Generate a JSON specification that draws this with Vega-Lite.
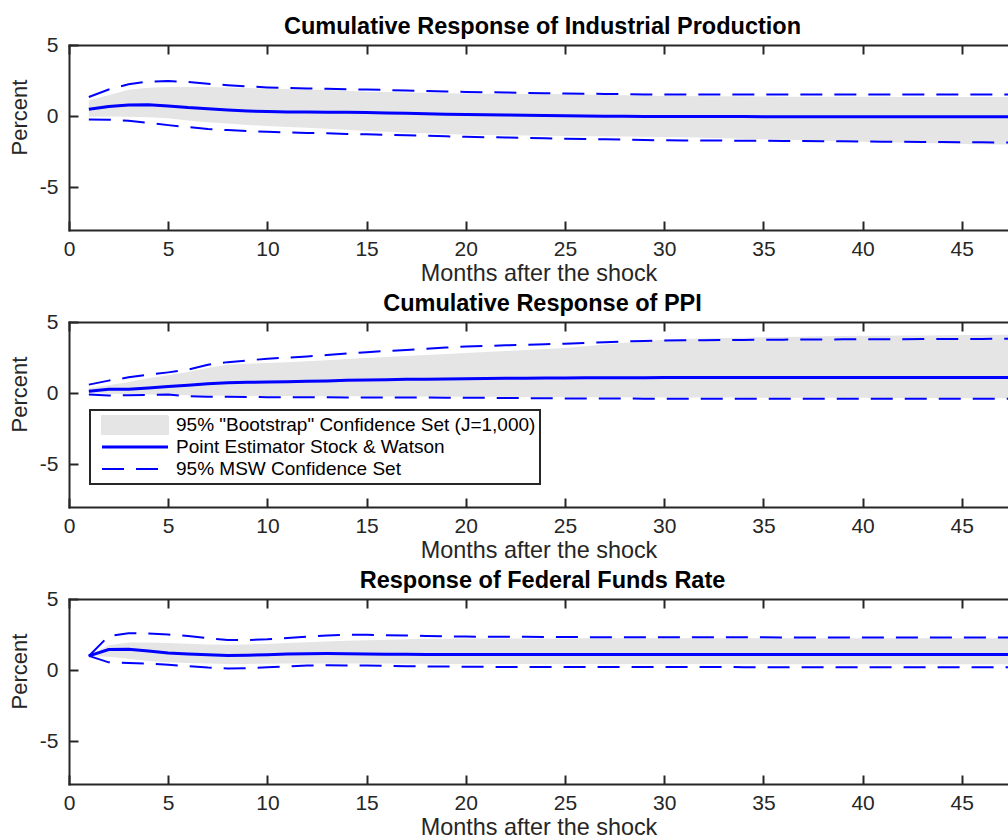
{
  "$schema": "https://vega.github.io/schema/vega-lite/v6.json",
  "background": "white",
  "padding": {"left": 7, "top": 14, "right": 0, "bottom": 0},
  "bounds": "flush",
  "spacing": 92,
  "resolve": {"scale": {"color": "independent"}},
  "config": {
    "font": "Liberation Sans",
    "view": {"stroke": null},
    "axis": {
      "domainColor": "#262626", "domainWidth": 2, "domainCap": "square",
      "tickColor": "#262626", "tickWidth": 2, "tickSize": -9,
      "labelFont": "Liberation Sans", "labelFontSize": 21, "labelColor": "#262626",
      "titleFont": "Liberation Sans", "titleFontSize": 22, "titleColor": "#262626", "titleFontWeight": "normal",
      "grid": false, "labelFlush": false, "labelOverlap": false,
      "labelExpr": "'' + datum.value"
    },
    "axisX": {"labelPadding": 17, "titleY": 50, "titleBaseline": "alphabetic", "labelBaseline": "top", "titleFontSize": 23.4},
    "axisY": {"labelPadding": 20, "titleX": -43, "titleY": 72, "titleBaseline": "alphabetic", "titleAngle": -90, "titleAlign": "center"},
    "title": {"font": "Liberation Sans", "fontSize": 23.5, "fontWeight": "bold", "color": "black", "anchor": "middle", "frame": "group", "baseline": "alphabetic", "offset": -4, "dx": 4}
  },
  "datasets": {
    "ip": [
      {"m":1,"pe":0.49,"bl":-0.05,"bu":1.12,"ml":-0.23,"mu":1.35},
      {"m":2,"pe":0.68,"bl":-0.03,"bu":1.47,"ml":-0.25,"mu":1.87},
      {"m":3,"pe":0.78,"bl":-0.05,"bu":1.85,"ml":-0.33,"mu":2.24},
      {"m":4,"pe":0.80,"bl":-0.08,"bu":2.00,"ml":-0.47,"mu":2.43},
      {"m":5,"pe":0.72,"bl":-0.15,"bu":2.05,"ml":-0.63,"mu":2.47},
      {"m":6,"pe":0.60,"bl":-0.30,"bu":2.05,"ml":-0.77,"mu":2.40},
      {"m":7,"pe":0.52,"bl":-0.42,"bu":2.04,"ml":-0.90,"mu":2.28},
      {"m":8,"pe":0.43,"bl":-0.52,"bu":2.01,"ml":-0.98,"mu":2.17},
      {"m":9,"pe":0.36,"bl":-0.62,"bu":1.97,"ml":-1.05,"mu":2.09},
      {"m":10,"pe":0.32,"bl":-0.70,"bu":1.94,"ml":-1.10,"mu":2.02},
      {"m":11,"pe":0.30,"bl":-0.76,"bu":1.91,"ml":-1.14,"mu":1.98},
      {"m":12,"pe":0.29,"bl":-0.82,"bu":1.88,"ml":-1.18,"mu":1.95},
      {"m":13,"pe":0.28,"bl":-0.88,"bu":1.84,"ml":-1.21,"mu":1.92},
      {"m":14,"pe":0.27,"bl":-0.96,"bu":1.79,"ml":-1.25,"mu":1.89},
      {"m":15,"pe":0.25,"bl":-1.04,"bu":1.72,"ml":-1.28,"mu":1.87},
      {"m":16,"pe":0.23,"bl":-1.10,"bu":1.69,"ml":-1.31,"mu":1.84},
      {"m":17,"pe":0.20,"bl":-1.16,"bu":1.66,"ml":-1.35,"mu":1.80},
      {"m":18,"pe":0.17,"bl":-1.21,"bu":1.64,"ml":-1.38,"mu":1.77},
      {"m":19,"pe":0.14,"bl":-1.26,"bu":1.61,"ml":-1.42,"mu":1.73},
      {"m":20,"pe":0.12,"bl":-1.30,"bu":1.59,"ml":-1.45,"mu":1.70},
      {"m":21,"pe":0.10,"bl":-1.32,"bu":1.58,"ml":-1.48,"mu":1.68},
      {"m":22,"pe":0.08,"bl":-1.34,"bu":1.57,"ml":-1.50,"mu":1.66},
      {"m":23,"pe":0.06,"bl":-1.36,"bu":1.56,"ml":-1.53,"mu":1.64},
      {"m":24,"pe":0.04,"bl":-1.38,"bu":1.55,"ml":-1.56,"mu":1.61},
      {"m":25,"pe":0.02,"bl":-1.40,"bu":1.54,"ml":-1.59,"mu":1.59},
      {"m":26,"pe":0.01,"bl":-1.41,"bu":1.52,"ml":-1.61,"mu":1.58},
      {"m":27,"pe":0.00,"bl":-1.42,"bu":1.49,"ml":-1.63,"mu":1.56},
      {"m":28,"pe":-0.01,"bl":-1.43,"bu":1.47,"ml":-1.65,"mu":1.55},
      {"m":29,"pe":-0.02,"bl":-1.45,"bu":1.44,"ml":-1.68,"mu":1.53},
      {"m":30,"pe":-0.02,"bl":-1.46,"bu":1.42,"ml":-1.70,"mu":1.52},
      {"m":31,"pe":-0.03,"bl":-1.49,"bu":1.41,"ml":-1.71,"mu":1.52},
      {"m":32,"pe":-0.03,"bl":-1.52,"bu":1.40,"ml":-1.71,"mu":1.52},
      {"m":33,"pe":-0.03,"bl":-1.55,"bu":1.39,"ml":-1.72,"mu":1.52},
      {"m":34,"pe":-0.03,"bl":-1.59,"bu":1.38,"ml":-1.72,"mu":1.52},
      {"m":35,"pe":-0.04,"bl":-1.62,"bu":1.38,"ml":-1.73,"mu":1.52},
      {"m":36,"pe":-0.04,"bl":-1.66,"bu":1.37,"ml":-1.74,"mu":1.52},
      {"m":37,"pe":-0.04,"bl":-1.70,"bu":1.37,"ml":-1.75,"mu":1.52},
      {"m":38,"pe":-0.04,"bl":-1.73,"bu":1.36,"ml":-1.76,"mu":1.52},
      {"m":39,"pe":-0.04,"bl":-1.77,"bu":1.36,"ml":-1.77,"mu":1.52},
      {"m":40,"pe":-0.05,"bl":-1.80,"bu":1.36,"ml":-1.78,"mu":1.52},
      {"m":41,"pe":-0.05,"bl":-1.83,"bu":1.36,"ml":-1.79,"mu":1.52},
      {"m":42,"pe":-0.05,"bl":-1.86,"bu":1.35,"ml":-1.80,"mu":1.52},
      {"m":43,"pe":-0.05,"bl":-1.89,"bu":1.35,"ml":-1.81,"mu":1.52},
      {"m":44,"pe":-0.05,"bl":-1.92,"bu":1.35,"ml":-1.82,"mu":1.52},
      {"m":45,"pe":-0.05,"bl":-1.95,"bu":1.35,"ml":-1.83,"mu":1.52},
      {"m":46,"pe":-0.05,"bl":-1.97,"bu":1.35,"ml":-1.84,"mu":1.52},
      {"m":47,"pe":-0.05,"bl":-1.99,"bu":1.35,"ml":-1.85,"mu":1.52},
      {"m":48,"pe":-0.05,"bl":-2.01,"bu":1.35,"ml":-1.85,"mu":1.52}
    ],
    "ppi": [
      {"m":1,"pe":0.14,"bl":0.00,"bu":0.37,"ml":-0.09,"mu":0.60},
      {"m":2,"pe":0.28,"bl":-0.05,"bu":0.56,"ml":-0.16,"mu":0.88},
      {"m":3,"pe":0.28,"bl":-0.08,"bu":0.78,"ml":-0.14,"mu":1.11},
      {"m":4,"pe":0.37,"bl":-0.10,"bu":1.05,"ml":-0.12,"mu":1.30},
      {"m":5,"pe":0.47,"bl":-0.12,"bu":1.25,"ml":-0.10,"mu":1.46},
      {"m":6,"pe":0.56,"bl":-0.14,"bu":1.49,"ml":-0.21,"mu":1.65},
      {"m":7,"pe":0.66,"bl":-0.16,"bu":1.77,"ml":-0.25,"mu":2.00},
      {"m":8,"pe":0.73,"bl":-0.18,"bu":2.00,"ml":-0.26,"mu":2.18},
      {"m":9,"pe":0.76,"bl":-0.19,"bu":2.06,"ml":-0.27,"mu":2.30},
      {"m":10,"pe":0.78,"bl":-0.20,"bu":2.12,"ml":-0.28,"mu":2.42},
      {"m":11,"pe":0.80,"bl":-0.20,"bu":2.18,"ml":-0.28,"mu":2.50},
      {"m":12,"pe":0.83,"bl":-0.21,"bu":2.24,"ml":-0.29,"mu":2.58},
      {"m":13,"pe":0.86,"bl":-0.21,"bu":2.32,"ml":-0.29,"mu":2.68},
      {"m":14,"pe":0.90,"bl":-0.22,"bu":2.40,"ml":-0.30,"mu":2.78},
      {"m":15,"pe":0.93,"bl":-0.22,"bu":2.47,"ml":-0.30,"mu":2.88},
      {"m":16,"pe":0.95,"bl":-0.23,"bu":2.54,"ml":-0.30,"mu":2.96},
      {"m":17,"pe":0.97,"bl":-0.23,"bu":2.61,"ml":-0.31,"mu":3.04},
      {"m":18,"pe":0.98,"bl":-0.24,"bu":2.68,"ml":-0.31,"mu":3.12},
      {"m":19,"pe":1.00,"bl":-0.24,"bu":2.75,"ml":-0.32,"mu":3.20},
      {"m":20,"pe":1.02,"bl":-0.25,"bu":2.82,"ml":-0.32,"mu":3.28},
      {"m":21,"pe":1.03,"bl":-0.25,"bu":2.89,"ml":-0.33,"mu":3.32},
      {"m":22,"pe":1.04,"bl":-0.26,"bu":2.96,"ml":-0.34,"mu":3.36},
      {"m":23,"pe":1.05,"bl":-0.27,"bu":3.03,"ml":-0.35,"mu":3.40},
      {"m":24,"pe":1.06,"bl":-0.27,"bu":3.10,"ml":-0.36,"mu":3.44},
      {"m":25,"pe":1.07,"bl":-0.28,"bu":3.17,"ml":-0.37,"mu":3.47},
      {"m":26,"pe":1.08,"bl":-0.28,"bu":3.30,"ml":-0.37,"mu":3.53},
      {"m":27,"pe":1.08,"bl":-0.29,"bu":3.42,"ml":-0.38,"mu":3.58},
      {"m":28,"pe":1.09,"bl":-0.29,"bu":3.55,"ml":-0.38,"mu":3.63},
      {"m":29,"pe":1.09,"bl":-0.30,"bu":3.65,"ml":-0.39,"mu":3.67},
      {"m":30,"pe":1.10,"bl":-0.30,"bu":3.75,"ml":-0.39,"mu":3.70},
      {"m":31,"pe":1.10,"bl":-0.30,"bu":3.80,"ml":-0.39,"mu":3.71},
      {"m":32,"pe":1.10,"bl":-0.31,"bu":3.84,"ml":-0.40,"mu":3.72},
      {"m":33,"pe":1.10,"bl":-0.31,"bu":3.87,"ml":-0.40,"mu":3.73},
      {"m":34,"pe":1.10,"bl":-0.31,"bu":3.90,"ml":-0.40,"mu":3.74},
      {"m":35,"pe":1.10,"bl":-0.32,"bu":3.93,"ml":-0.40,"mu":3.75},
      {"m":36,"pe":1.10,"bl":-0.32,"bu":3.95,"ml":-0.40,"mu":3.76},
      {"m":37,"pe":1.10,"bl":-0.32,"bu":3.97,"ml":-0.40,"mu":3.77},
      {"m":38,"pe":1.10,"bl":-0.33,"bu":3.99,"ml":-0.40,"mu":3.77},
      {"m":39,"pe":1.10,"bl":-0.33,"bu":4.01,"ml":-0.40,"mu":3.78},
      {"m":40,"pe":1.10,"bl":-0.33,"bu":4.03,"ml":-0.40,"mu":3.78},
      {"m":41,"pe":1.10,"bl":-0.34,"bu":4.04,"ml":-0.40,"mu":3.79},
      {"m":42,"pe":1.10,"bl":-0.34,"bu":4.05,"ml":-0.40,"mu":3.79},
      {"m":43,"pe":1.10,"bl":-0.34,"bu":4.06,"ml":-0.40,"mu":3.80},
      {"m":44,"pe":1.10,"bl":-0.35,"bu":4.07,"ml":-0.40,"mu":3.80},
      {"m":45,"pe":1.10,"bl":-0.35,"bu":4.08,"ml":-0.40,"mu":3.81},
      {"m":46,"pe":1.10,"bl":-0.35,"bu":4.09,"ml":-0.40,"mu":3.81},
      {"m":47,"pe":1.10,"bl":-0.36,"bu":4.10,"ml":-0.40,"mu":3.82},
      {"m":48,"pe":1.10,"bl":-0.36,"bu":4.10,"ml":-0.40,"mu":3.82}
    ],
    "ffr": [
      {"m":1,"pe":1.00,"bl":1.00,"bu":1.00,"ml":1.00,"mu":1.00},
      {"m":2,"pe":1.45,"bl":0.95,"bu":1.75,"ml":0.55,"mu":2.40},
      {"m":3,"pe":1.47,"bl":0.80,"bu":1.95,"ml":0.50,"mu":2.60},
      {"m":4,"pe":1.35,"bl":0.65,"bu":1.95,"ml":0.45,"mu":2.57},
      {"m":5,"pe":1.20,"bl":0.55,"bu":1.90,"ml":0.38,"mu":2.50},
      {"m":6,"pe":1.14,"bl":0.50,"bu":1.85,"ml":0.28,"mu":2.40},
      {"m":7,"pe":1.08,"bl":0.46,"bu":1.80,"ml":0.18,"mu":2.25},
      {"m":8,"pe":1.03,"bl":0.44,"bu":1.78,"ml":0.12,"mu":2.12},
      {"m":9,"pe":1.05,"bl":0.44,"bu":1.80,"ml":0.14,"mu":2.12},
      {"m":10,"pe":1.09,"bl":0.45,"bu":1.84,"ml":0.20,"mu":2.17},
      {"m":11,"pe":1.13,"bl":0.46,"bu":1.90,"ml":0.26,"mu":2.26},
      {"m":12,"pe":1.16,"bl":0.47,"bu":1.96,"ml":0.32,"mu":2.36},
      {"m":13,"pe":1.17,"bl":0.47,"bu":2.02,"ml":0.34,"mu":2.44},
      {"m":14,"pe":1.15,"bl":0.47,"bu":2.06,"ml":0.33,"mu":2.48},
      {"m":15,"pe":1.13,"bl":0.46,"bu":2.10,"ml":0.32,"mu":2.49},
      {"m":16,"pe":1.12,"bl":0.46,"bu":2.14,"ml":0.30,"mu":2.46},
      {"m":17,"pe":1.11,"bl":0.45,"bu":2.17,"ml":0.28,"mu":2.43},
      {"m":18,"pe":1.10,"bl":0.45,"bu":2.20,"ml":0.26,"mu":2.40},
      {"m":19,"pe":1.10,"bl":0.44,"bu":2.21,"ml":0.25,"mu":2.38},
      {"m":20,"pe":1.10,"bl":0.44,"bu":2.22,"ml":0.24,"mu":2.36},
      {"m":21,"pe":1.10,"bl":0.44,"bu":2.22,"ml":0.23,"mu":2.35},
      {"m":22,"pe":1.10,"bl":0.44,"bu":2.22,"ml":0.23,"mu":2.34},
      {"m":23,"pe":1.10,"bl":0.44,"bu":2.23,"ml":0.23,"mu":2.34},
      {"m":24,"pe":1.10,"bl":0.44,"bu":2.23,"ml":0.22,"mu":2.33},
      {"m":25,"pe":1.10,"bl":0.43,"bu":2.23,"ml":0.22,"mu":2.33},
      {"m":26,"pe":1.10,"bl":0.43,"bu":2.24,"ml":0.22,"mu":2.32},
      {"m":27,"pe":1.10,"bl":0.43,"bu":2.24,"ml":0.22,"mu":2.32},
      {"m":28,"pe":1.10,"bl":0.43,"bu":2.24,"ml":0.22,"mu":2.32},
      {"m":29,"pe":1.10,"bl":0.43,"bu":2.24,"ml":0.22,"mu":2.32},
      {"m":30,"pe":1.10,"bl":0.43,"bu":2.24,"ml":0.22,"mu":2.31},
      {"m":31,"pe":1.10,"bl":0.43,"bu":2.24,"ml":0.22,"mu":2.31},
      {"m":32,"pe":1.10,"bl":0.43,"bu":2.24,"ml":0.22,"mu":2.31},
      {"m":33,"pe":1.10,"bl":0.43,"bu":2.24,"ml":0.22,"mu":2.31},
      {"m":34,"pe":1.10,"bl":0.43,"bu":2.25,"ml":0.21,"mu":2.31},
      {"m":35,"pe":1.10,"bl":0.43,"bu":2.25,"ml":0.21,"mu":2.31},
      {"m":36,"pe":1.10,"bl":0.42,"bu":2.25,"ml":0.21,"mu":2.30},
      {"m":37,"pe":1.10,"bl":0.42,"bu":2.25,"ml":0.21,"mu":2.30},
      {"m":38,"pe":1.10,"bl":0.42,"bu":2.25,"ml":0.21,"mu":2.30},
      {"m":39,"pe":1.10,"bl":0.42,"bu":2.25,"ml":0.21,"mu":2.30},
      {"m":40,"pe":1.10,"bl":0.42,"bu":2.25,"ml":0.21,"mu":2.30},
      {"m":41,"pe":1.10,"bl":0.42,"bu":2.25,"ml":0.21,"mu":2.30},
      {"m":42,"pe":1.10,"bl":0.42,"bu":2.25,"ml":0.21,"mu":2.30},
      {"m":43,"pe":1.10,"bl":0.42,"bu":2.25,"ml":0.21,"mu":2.30},
      {"m":44,"pe":1.10,"bl":0.42,"bu":2.25,"ml":0.21,"mu":2.30},
      {"m":45,"pe":1.10,"bl":0.42,"bu":2.25,"ml":0.21,"mu":2.30},
      {"m":46,"pe":1.10,"bl":0.42,"bu":2.25,"ml":0.21,"mu":2.30},
      {"m":47,"pe":1.10,"bl":0.42,"bu":2.25,"ml":0.21,"mu":2.30},
      {"m":48,"pe":1.10,"bl":0.42,"bu":2.25,"ml":0.21,"mu":2.30}
    ]
  },
  "vconcat": [
    {
      "width": 939, "height": 185,
      "title": {"text": "Cumulative Response of Industrial Production"},
      "data": {"name": "ip"},
      "resolve": {"axis": {"x": "independent"}},
      "layer": [
        {"mark": {"type": "area", "color": "#e5e5e5", "clip": true},
         "encoding": {
           "x": {"field": "m", "type": "quantitative", "scale": {"domain": [0, 47.33], "nice": false, "zero": false}, "axis": {"values": [0,5,10,15,20,25,30,35,40,45], "title": "Months after the shock"}},
           "y": {"field": "bl", "type": "quantitative", "title": "Percent", "scale": {"domain": [-8, 5], "nice": false, "zero": false}, "axis": {"values": [-5, 0, 5]}},
           "y2": {"field": "bu"}}},
        {"mark": {"type": "line", "color": "#0000ff", "strokeWidth": 3, "clip": true},
         "encoding": {
           "x": {"field": "m", "type": "quantitative", "axis": {"orient": "top", "values": [0,5,10,15,20,25,30,35,40,45], "labels": false, "title": null}},
           "y": {"field": "pe", "type": "quantitative", "title": "Percent"}}},
        {"mark": {"type": "line", "color": "#0000ff", "strokeWidth": 2, "strokeDash": [22, 12], "clip": true},
         "encoding": {
           "x": {"field": "m", "type": "quantitative", "axis": null},
           "y": {"field": "ml", "type": "quantitative", "title": "Percent"}}},
        {"mark": {"type": "line", "color": "#0000ff", "strokeWidth": 2, "strokeDash": [22, 12], "clip": true},
         "encoding": {
           "x": {"field": "m", "type": "quantitative", "axis": null},
           "y": {"field": "mu", "type": "quantitative", "title": "Percent"}}}
      ]
    },
    {
      "width": 939, "height": 185,
      "title": {"text": "Cumulative Response of PPI"},
      "data": {"name": "ppi"},
      "resolve": {"axis": {"x": "independent"}},
      "layer": [
        {"mark": {"type": "area", "clip": true},
         "encoding": {
           "x": {"field": "m", "type": "quantitative", "scale": {"domain": [0, 47.33], "nice": false, "zero": false}, "axis": {"values": [0,5,10,15,20,25,30,35,40,45], "title": "Months after the shock"}},
           "y": {"field": "bl", "type": "quantitative", "title": "Percent", "scale": {"domain": [-8, 5], "nice": false, "zero": false}, "axis": {"values": [-5, 0, 5]}},
           "y2": {"field": "bu"},
           "color": {"datum": "95% \"Bootstrap\" Confidence Set (J=1,000)",
             "scale": {"domain": ["95% \"Bootstrap\" Confidence Set (J=1,000)", "Point Estimator Stock & Watson", "95% MSW Confidence Set"], "range": ["#e5e5e5", "#0000ff", "#0000ff"]},
             "legend": {
               "orient": "none", "legendX": 21, "legendY": 88, "title": null,
               "padding": 4, "strokeColor": "#262626", "fillColor": "white",
               "labelFont": "Liberation Sans", "labelFontSize": 19, "labelColor": "black", "labelLimit": 0,
               "symbolOffset": 7, "labelOffset": 7, "clipHeight": 22, "rowPadding": 0,
               "symbolSize": 4356, "symbolType": "stroke", "symbolStrokeWidth": 2,
               "encode": {
                 "legend": {"update": {"strokeWidth": {"value": 2}}},
                 "symbols": {"update": {
                 "shape": {"signal": "(datum.index === 0 ? 'M-1,-0.273H1V0.273H-1Z' : 'stroke')"},
                 "fill": {"signal": "(datum.index === 0 ? '#e5e5e5' : 'transparent')"},
                 "stroke": {"signal": "(datum.index === 0 ? 'transparent' : '#0000ff')"},
                 "strokeWidth": {"signal": "(datum.index === 1 ? 3 : 2)"},
                 "strokeDash": {"signal": "(datum.index === 2 ? [22, 12] : [1, 0])"},
                 "size": {"value": 4356},
                 "opacity": {"value": 1}, "fillOpacity": {"value": 1}, "strokeOpacity": {"value": 1}
               }}}
             }}}},
        {"mark": {"type": "line", "strokeWidth": 3, "clip": true},
         "encoding": {
           "x": {"field": "m", "type": "quantitative", "axis": {"orient": "top", "values": [0,5,10,15,20,25,30,35,40,45], "labels": false, "title": null}},
           "y": {"field": "pe", "type": "quantitative", "title": "Percent"},
           "color": {"datum": "Point Estimator Stock & Watson"}}},
        {"mark": {"type": "line", "strokeWidth": 2, "strokeDash": [22, 12], "clip": true},
         "encoding": {
           "x": {"field": "m", "type": "quantitative", "axis": null},
           "y": {"field": "ml", "type": "quantitative", "title": "Percent"},
           "color": {"datum": "95% MSW Confidence Set"}}},
        {"mark": {"type": "line", "strokeWidth": 2, "strokeDash": [22, 12], "clip": true},
         "encoding": {
           "x": {"field": "m", "type": "quantitative", "axis": null},
           "y": {"field": "mu", "type": "quantitative", "title": "Percent"},
           "color": {"datum": "95% MSW Confidence Set"}}}
      ]
    },
    {
      "width": 939, "height": 185,
      "title": {"text": "Response of Federal Funds Rate"},
      "data": {"name": "ffr"},
      "resolve": {"axis": {"x": "independent"}},
      "layer": [
        {"mark": {"type": "area", "color": "#e5e5e5", "clip": true},
         "encoding": {
           "x": {"field": "m", "type": "quantitative", "scale": {"domain": [0, 47.33], "nice": false, "zero": false}, "axis": {"values": [0,5,10,15,20,25,30,35,40,45], "title": "Months after the shock"}},
           "y": {"field": "bl", "type": "quantitative", "title": "Percent", "scale": {"domain": [-8, 5], "nice": false, "zero": false}, "axis": {"values": [-5, 0, 5]}},
           "y2": {"field": "bu"}}},
        {"mark": {"type": "line", "color": "#0000ff", "strokeWidth": 3, "clip": true},
         "encoding": {
           "x": {"field": "m", "type": "quantitative", "axis": {"orient": "top", "values": [0,5,10,15,20,25,30,35,40,45], "labels": false, "title": null}},
           "y": {"field": "pe", "type": "quantitative", "title": "Percent"}}},
        {"mark": {"type": "line", "color": "#0000ff", "strokeWidth": 2, "strokeDash": [22, 12], "clip": true},
         "encoding": {
           "x": {"field": "m", "type": "quantitative", "axis": null},
           "y": {"field": "ml", "type": "quantitative", "title": "Percent"}}},
        {"mark": {"type": "line", "color": "#0000ff", "strokeWidth": 2, "strokeDash": [22, 12], "clip": true},
         "encoding": {
           "x": {"field": "m", "type": "quantitative", "axis": null},
           "y": {"field": "mu", "type": "quantitative", "title": "Percent"}}}
      ]
    }
  ]
}
